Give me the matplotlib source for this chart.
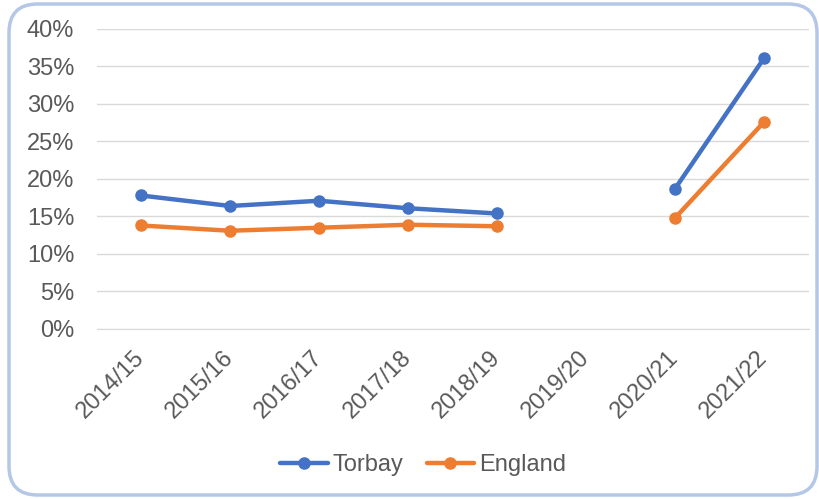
import numpy as np
import matplotlib.pyplot as plt
import matplotlib.transforms as mtrans
from matplotlib.patches import FancyBboxPatch
from matplotlib.ticker import FuncFormatter

plt.rcParams['font.family'] = ['Liberation Sans', 'DejaVu Sans']

years = ['2014/15', '2015/16', '2016/17', '2017/18', '2018/19', '2019/20', '2020/21', '2021/22']
torbay = [17.8, 16.4, 17.1, 16.1, 15.4, np.nan, 18.7, 36.1]
england = [13.8, 13.1, 13.5, 13.9, 13.7, np.nan, 14.8, 27.6]

fig = plt.figure(figsize=(8.2, 4.99), dpi=100)
ax = fig.add_axes([0.1177, 0.3407, 0.8683, 0.6012])

x = np.arange(len(years))
ax.plot(x, torbay, color='#4472C4', lw=3.2, marker='o', ms=8, label='Torbay', solid_capstyle='round')
ax.plot(x, england, color='#ED7D31', lw=3.2, marker='o', ms=8, label='England', solid_capstyle='round')

ax.set_xlim(-0.5, len(years) - 0.5)
ax.set_ylim(0, 40)
ax.set_yticks(range(0, 41, 5))
ax.yaxis.set_major_formatter(FuncFormatter(lambda v, p: f'{v:.0f}%'))
ax.grid(axis='y', color='#D9D9D9', lw=1)
ax.set_axisbelow(True)
for s in ['top', 'right', 'left']:
    ax.spines[s].set_visible(False)
ax.spines['bottom'].set_color('#D9D9D9')
ax.tick_params(axis='both', length=0, colors='#595959', labelsize=17)
ax.tick_params(axis='y', pad=16)
ax.set_xticks(x)
ax.set_xticklabels(years, rotation=45, ha='right', va='top', rotation_mode='anchor')
ax.tick_params(axis='x', pad=10)
shift = mtrans.ScaledTranslation(-8 / 100, -4 / 100, fig.dpi_scale_trans)
for lbl in ax.get_xticklabels():
    lbl.set_transform(lbl.get_transform() + shift)

ax.legend(loc='center', bbox_to_anchor=(0.516, 0.0685), bbox_transform=fig.transFigure,
          ncol=2, frameon=False, fontsize=17, labelcolor='#595959',
          handlelength=2.0, handletextpad=0.2, columnspacing=1.0)

border = FancyBboxPatch((9 / 820, 4 / 499), 808 / 820, 491 / 499,
                        boxstyle='round,pad=0,rounding_size=0.035',
                        transform=fig.transFigure, fill=False,
                        ec='#B4C7E7', lw=2.5, mutation_aspect=820 / 499)
fig.patches.append(border)

fig.savefig('out.png', dpi=100)
